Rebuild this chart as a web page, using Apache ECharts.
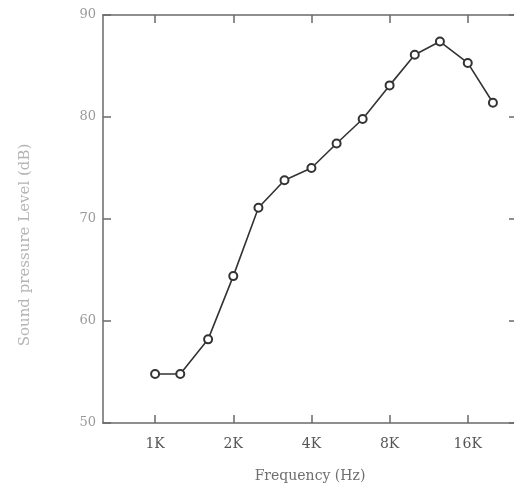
<!DOCTYPE html>
<html>
<head>
<meta charset="utf-8">
<script src="https://cdn.jsdelivr.net/npm/echarts@6/dist/echarts.min.js"></script>
<style>
  html, body { margin: 0; padding: 0; background: #fff; }
  #chart { width: 514px; height: 493px; }
</style>
</head>
<body>
<div id="chart"></div>
<script>
// One-third-octave band centre frequencies (Hz)
const frequencies = [1000, 1250, 1600, 2000, 2500, 3150, 4000, 5000, 6300, 8000, 10000, 12500, 16000, 20000];
// Measured sound pressure level in each band (dB)
const levels = [54.8, 54.8, 58.2, 64.4, 71.1, 73.8, 75.0, 77.4, 79.8, 83.1, 86.1, 87.4, 85.3, 81.4];
// Octave ticks along the frequency axis
const freqTicks = [1000, 2000, 4000, 8000, 16000];
const freqTickLabels = ['1K', '2K', '4K', '8K', '16K'];
// Level axis
const levelMin = 50, levelMax = 90, levelStep = 10;

const FONT = '"DejaVu Serif", "Liberation Serif", serif';
const frameColor = '#6a6a6a';

const chart = echarts.init(document.getElementById('chart'), null, { renderer: 'canvas' });

const xBase = {
  type: 'log',
  logBase: 2,
  min: 630,
  max: 24760,
  splitLine: { show: false },
  axisLine: { show: true, lineStyle: { color: frameColor, width: 1.5 } }
};
const yBase = {
  type: 'value',
  min: levelMin,
  max: levelMax,
  interval: levelStep,
  splitLine: { show: false },
  axisLine: { show: true, lineStyle: { color: frameColor, width: 1.5 } }
};

chart.setOption({
  animation: false,
  backgroundColor: '#ffffff',
  // the frame runs just past the right edge of the canvas
  grid: { left: 103, top: 15, width: 414, bottom: 70, containLabel: false, outerBoundsMode: 'none' },
  xAxis: [
    Object.assign({}, xBase, {
      position: 'bottom',
      name: 'Frequency (Hz)',
      nameLocation: 'middle',
      nameGap: 46,
      nameTextStyle: { fontFamily: FONT, fontSize: 14, color: '#6e6e6e' },
      axisTick: { show: true, inside: true, length: 8, customValues: freqTicks,
                  lineStyle: { color: frameColor, width: 1.5 } },
      axisLabel: {
        show: true, margin: 14, customValues: freqTicks,
        fontFamily: FONT, fontSize: 14, color: '#555',
        formatter: function (v) {
          const i = freqTicks.indexOf(Math.round(v));
          return i >= 0 ? freqTickLabels[i] : '';
        }
      }
    }),
    Object.assign({}, xBase, {
      position: 'top',
      axisTick: { show: true, inside: true, length: 8, customValues: freqTicks,
                  lineStyle: { color: frameColor, width: 1.5 } },
      axisLabel: { show: false }
    })
  ],
  yAxis: [
    Object.assign({}, yBase, {
      position: 'left',
      axisTick: { show: true, inside: true, length: 8, lineStyle: { color: frameColor, width: 1.5 } },
      axisLabel: { show: true, margin: 7, fontFamily: FONT, fontSize: 13, color: '#9a9a9a' }
    }),
    Object.assign({}, yBase, {
      position: 'right',
      axisTick: { show: true, inside: true, length: 8, lineStyle: { color: frameColor, width: 1.5 } },
      axisLabel: { show: false }
    })
  ],
  graphic: [{
    type: 'text',
    x: 25,
    y: 245,
    rotation: Math.PI / 2,
    style: {
      text: 'Sound pressure Level (dB)',
      font: '15px ' + FONT,
      fill: '#b4b4b4',
      align: 'center',
      verticalAlign: 'middle'
    }
  }],
  series: [{
    type: 'line',
    xAxisIndex: 0,
    yAxisIndex: 0,
    data: frequencies.map((f, i) => [f, levels[i]]),
    symbol: 'emptyCircle',
    symbolSize: 8,
    lineStyle: { color: '#333', width: 1.6 },
    itemStyle: { color: '#333', borderWidth: 1.3 },
    z: 3
  }]
});
</script>
</body>
</html>
